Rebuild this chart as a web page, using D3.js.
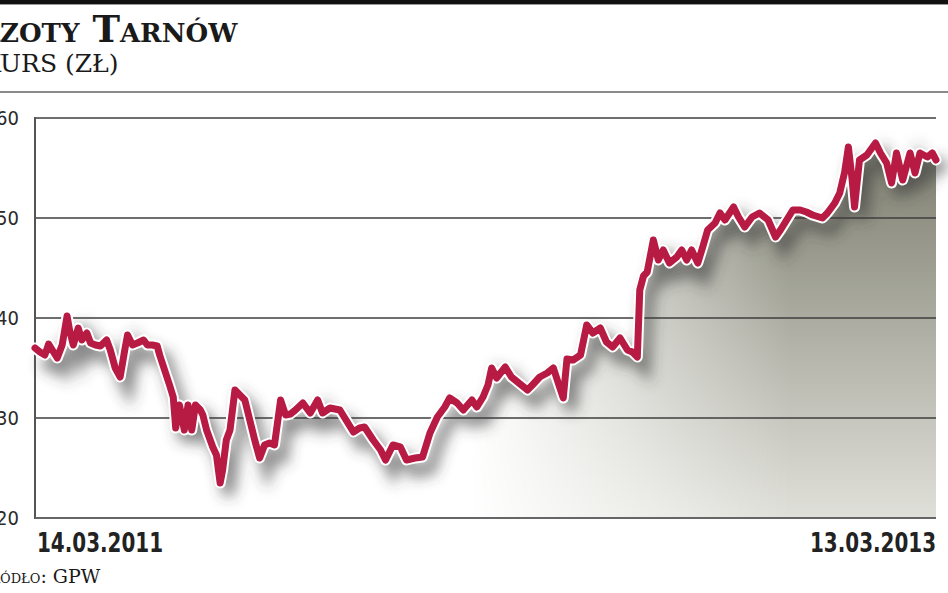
<!DOCTYPE html>
<html><head><meta charset="utf-8">
<script src="https://cdn.jsdelivr.net/npm/d3@7"></script>
<style>
html,body{margin:0;padding:0;background:#fff;overflow:hidden}
svg{display:block}
</style></head>
<body>
<svg id="chart" width="948" height="593"></svg>
<script>
// ---- data ----
const title = "Azoty Tarnów";
const subtitle = "Kurs (zł)";
const source = "Źródło: GPW";
const startDate = "2011-03-14";
const endDate = "2013-03-13";
const xTickLabels = ["14.03.2011", "13.03.2013"];
const yTicks = [20, 30, 40, 50, 60];
// days since 14.03.2011
const dayOffsets = [0,4,8,11,14,18,22,26,28,31,35,38,42,45,49,53,58,61,65,69,73,75,79,83,88,91,95,99,101,105,109,112,114,117,121,124,127,130,134,136,139,144,147,150,152,155,158,162,166,170,174,178,182,186,190,194,199,203,207,211,217,223,229,233,239,247,253,258,263,267,274,280,284,290,296,301,308,314,320,326,332,336,342,347,354,358,363,367,370,374,381,386,391,399,403,409,415,420,425,428,431,436,442,447,452,458,463,468,474,480,484,488,490,493,496,501,505,509,514,520,524,528,532,537,541,545,551,555,559,566,570,575,581,587,594,600,604,609,614,620,625,630,638,642,648,652,656,659,662,664,668,674,681,685,690,694,698,703,709,713,717,723,727,730];
const prices = [37.0,36.6,36.3,37.4,36.8,36.0,37.3,40.2,38.8,37.3,39.0,37.8,38.5,37.5,37.3,37.2,37.8,36.8,35.0,34.1,37.0,38.3,37.3,37.5,37.8,37.3,37.3,37.2,36.3,34.8,33.3,32.1,29.0,31.3,28.8,31.3,28.8,31.3,30.8,30.3,28.8,27.1,26.3,23.5,24.8,27.8,28.8,32.8,32.3,31.8,29.8,27.8,26.0,27.3,27.5,27.3,31.8,30.3,30.4,30.8,31.5,30.5,31.8,30.5,31.0,30.8,29.6,28.6,29.0,29.1,27.8,26.8,25.8,27.3,27.1,25.8,26.0,26.1,28.5,30.1,31.1,32.0,31.5,30.8,31.8,31.1,32.1,33.3,35.0,34.0,35.1,34.1,33.6,32.8,33.3,34.1,34.5,35.0,33.1,32.0,35.9,35.8,36.3,39.3,38.5,39.0,37.6,37.1,38.0,36.8,36.6,36.1,42.8,44.2,44.6,47.8,45.8,46.8,45.5,46.1,46.8,45.8,46.8,45.5,47.1,48.8,49.5,50.5,49.8,51.1,50.1,49.1,50.1,50.5,49.8,48.1,48.8,49.8,50.8,50.8,50.6,50.3,50.0,50.5,51.5,52.5,54.6,57.1,53.9,51.1,55.8,56.3,57.5,56.5,55.5,53.5,56.5,53.8,56.5,54.5,56.5,56.1,56.5,55.8];

// ---- build ----
const svg = d3.select("#chart");
const W = 948, H = 593;
const x0 = 35, x1 = 936, yTop = 118, yBot = 518;

const start = new Date(startDate + "T00:00:00Z");
const end = new Date(endDate + "T00:00:00Z");
const data = dayOffsets.map((d, i) => ({date: d3.utcDay.offset(start, d), v: prices[i]}));

const x = d3.scaleUtc().domain([start, end]).range([x0, x1]);
const y = d3.scaleLinear().domain([20, 60]).range([yBot, yTop]);

const defs = svg.append("defs");
const vg = defs.append("linearGradient").attr("id", "vfill")
  .attr("gradientUnits", "userSpaceOnUse").attr("x1", 0).attr("x2", 0).attr("y1", yTop + 40).attr("y2", yBot);
vg.append("stop").attr("offset", 0).attr("stop-color", "#818273");
vg.append("stop").attr("offset", 1).attr("stop-color", "#e0e0da");
const hg = defs.append("linearGradient").attr("id", "hmask")
  .attr("gradientUnits", "userSpaceOnUse").attr("x1", 470).attr("x2", 790).attr("y1", 0).attr("y2", 0);
hg.append("stop").attr("offset", 0).attr("stop-color", "#fff").attr("stop-opacity", 0);
hg.append("stop").attr("offset", 1).attr("stop-color", "#fff").attr("stop-opacity", 1);
defs.append("mask").attr("id", "fade").append("rect")
  .attr("x", 0).attr("y", 0).attr("width", W).attr("height", H).attr("fill", "url(#hmask)");
const blur = defs.append("filter").attr("id", "shadow").attr("x", "-10%").attr("y", "-30%").attr("width", "130%").attr("height", "170%");
blur.append("feGaussianBlur").attr("stdDeviation", 7);

// top black bar and separator
svg.append("rect").attr("x", 0).attr("y", 0).attr("width", W).attr("height", 4).attr("fill", "#111");
svg.append("rect").attr("x", 0).attr("y", 4).attr("width", W).attr("height", 1).attr("fill", "#999");
svg.append("rect").attr("x", 0).attr("y", 91).attr("width", W).attr("height", 2).attr("fill", "#8a8a8a");

// title / subtitle (left edge cropped as in the reference)
function croppedText(txt, yy, size, weight, cut, upper) {
  const t = svg.append("text").attr("y", yy)
    .attr("font-family", "'DejaVu Serif', serif").attr("font-size", size)
    .attr("font-weight", weight)
    .style("font-variant", upper ? "normal" : "small-caps")
    .style("text-transform", upper ? "uppercase" : "none")
    .attr("fill", "#1a1a1a").text(txt);
  const w = t.node().getSubStringLength(0, cut);
  t.attr("x", -w);
  return t;
}
croppedText(title, 42, 37, "bold", 1, false);
croppedText(subtitle, 72, 25, "normal", 1, true);
croppedText(source, 583, 19, "normal", 2, false);

// area fill
const area = d3.area().x(d => x(d.date)).y0(yBot).y1(d => y(d.v));
svg.append("path").datum(data).attr("d", area).attr("fill", "url(#vfill)").attr("mask", "url(#fade)");

// line shadow
const line = d3.line().x(d => x(d.date)).y(d => y(d.v)).curve(d3.curveLinear);
svg.append("path").datum(data).attr("d", line).attr("fill", "none")
  .attr("stroke", "#3a3a3a").attr("stroke-opacity", 0.6).attr("stroke-width", 12)
  .attr("transform", "translate(8,12)").attr("filter", "url(#shadow)");

// grid lines
svg.append("g").selectAll("line").data(yTicks.filter(t => t > 20)).join("line")
  .attr("x1", x0).attr("x2", x1).attr("y1", d => y(d)).attr("y2", d => y(d))
  .attr("stroke", "#3e3e3e").attr("stroke-width", 1.6);

// axes
svg.append("line").attr("x1", x0).attr("x2", x0).attr("y1", yTop - 1).attr("y2", yBot + 1)
  .attr("stroke", "#555").attr("stroke-width", 2);
svg.append("line").attr("x1", x0).attr("x2", x1).attr("y1", yBot).attr("y2", yBot)
  .attr("stroke", "#666").attr("stroke-width", 2);

// y labels
svg.append("g").selectAll("text").data(yTicks).join("text")
  .attr("x", 19).attr("y", d => y(d)).attr("dy", "0.33em").attr("text-anchor", "end")
  .attr("font-family", "'DejaVu Sans Condensed','DejaVu Sans',sans-serif")
  .attr("font-size", 20).attr("fill", "#2a2a2a").text(d => d);

// x labels
const xl = svg.append("g").attr("font-family", "'DejaVu Sans Condensed','DejaVu Sans',sans-serif")
  .attr("font-size", 27).attr("font-weight", "bold").attr("fill", "#222");
xl.append("text").attr("x", x(start) + 2).attr("y", 552).attr("text-anchor", "start")
  .attr("textLength", 126).attr("lengthAdjust", "spacingAndGlyphs").text(xTickLabels[0]);
xl.append("text").attr("x", x(end) - 126).attr("y", 552).attr("text-anchor", "start")
  .attr("textLength", 126).attr("lengthAdjust", "spacingAndGlyphs").text(xTickLabels[1]);

// line: white halo, red stroke
svg.append("path").datum(data).attr("d", line).attr("fill", "none")
  .attr("stroke", "#fff").attr("stroke-width", 11).attr("stroke-linejoin", "round").attr("stroke-linecap", "round");
svg.append("path").datum(data).attr("d", line).attr("fill", "none")
  .attr("stroke", "#b71a43").attr("stroke-width", 7).attr("stroke-linejoin", "round").attr("stroke-linecap", "round");
</script>
</body></html>
